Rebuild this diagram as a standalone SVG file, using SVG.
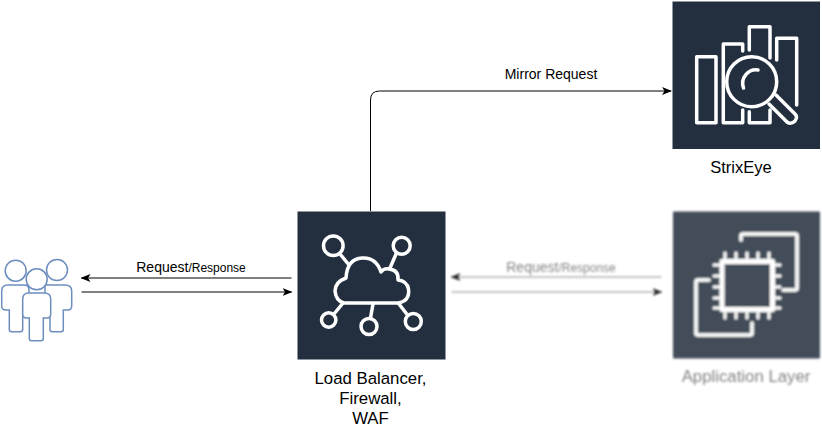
<svg xmlns="http://www.w3.org/2000/svg" width="822" height="432" viewBox="0 0 822 432">
<style>
text{font-family:"Liberation Sans",Arial,sans-serif;fill:#000;text-anchor:middle}
.box{fill:#232f3e}
.ic{fill:none;stroke:#fff;stroke-width:3.500;stroke-linejoin:round;stroke-linecap:round}
.ln{fill:none;stroke:#000;stroke-width:1}
.p{fill:#fff;stroke:#6c8ebf;stroke-width:1.500}
</style>
<defs>
<marker id="a" viewBox="0 0 10 8" refX="9" refY="4" markerWidth="10" markerHeight="8" orient="auto" markerUnits="userSpaceOnUse"><path d="M0 0L10 4L0 8L2.500 4Z" fill="#000"/></marker>
<filter id="b" x="-5%" y="-5%" width="110%" height="110%"><feGaussianBlur stdDeviation="1.100"/></filter>
</defs>
<g id="connectors">
<path class="ln" d="M370.500 211V100Q370.500 91 379.500 91H671" marker-end="url(#a)"/>
<path class="ln" d="M291.500 278H81.500" marker-end="url(#a)"/>
<path class="ln" d="M81.500 292H291.500" marker-end="url(#a)"/>
<text x="191" y="271.500" font-size="14">Request<tspan font-size="12">/Response</tspan></text>
<text x="551" y="78.500" font-size="14">Mirror Request</text>
</g>
<g id="users">
<circle class="p" cx="15.700" cy="270.700" r="10.500"/>
<circle class="p" cx="57" cy="270" r="10.500"/>
<path class="p" d="M8 285H24Q29 285 29 290V305H22.700V329.500Q22.700 331.700 20.500 331.700H11.500Q9.300 331.700 9.300 329.500V310H6Q1.700 310 1.700 306V291Q1.700 285 8 285Z"/>
<path class="p" d="M45 285H65Q71.700 285 71.700 291V306Q71.700 310 67.500 310H63.300V329.500Q63.300 331.700 61 331.700H52.200Q50 331.700 50 329.500V305H45Z"/>
<circle class="p" cx="36.700" cy="279.300" r="10.500"/>
<path class="p" d="M29 293H44.500Q50.700 293 50.700 299V314Q50.700 318 47 318H43.300V338.500Q43.300 340.700 41 340.700H31.500Q29.300 340.700 29.300 338.500V318H26.500Q22.700 318 22.700 314V299Q22.700 293 29 293Z"/>
</g>
<g id="load-balancer">
<rect class="box" x="297.500" y="211.500" width="148" height="148"/>
<g class="ic">
<circle cx="333.300" cy="245.700" r="9.800"/>
<circle cx="401.700" cy="245.700" r="8.500"/>
<circle cx="328.700" cy="320" r="7.200"/>
<circle cx="369" cy="326.500" r="8"/>
<circle cx="413.300" cy="321.500" r="8"/>
<path d="M340 254L349 265M396.500 253L390 268M343 303L334 314M373 304L370.500 318M399 304L407.500 315"/>
<path d="M344 303H398Q410 301 408.500 289Q407 281 398 280Q399 270 389 269Q384 268 381 272Q376 257 362 258Q347 259 346 278Q335 282 335 291Q336 301 344 303Z"/>
</g>
<text x="370.500" y="384" font-size="16.800">Load Balancer,</text>
<text x="370.500" y="404" font-size="16.800">Firewall,</text>
<text x="370.500" y="424" font-size="16.800">WAF</text>
</g>
<g id="strixeye">
<rect class="box" x="672.500" y="1.500" width="147.500" height="147.500"/>
<g class="ic">
<rect x="696.700" y="56.700" width="19.300" height="66"/>
<path d="M742.700 51V44H723.300V122.700H742.700V110M749.300 50V26.700H770V58M749.300 111.700V122.700H770V110M776.700 60V38.300H796.700V105"/>
<circle cx="751.700" cy="81.700" r="25"/>
<path d="M758 70A13.500 13.500 0 0 0 743.500 88"/>
<path d="M769 104L787 122Q791 125 795 121Q798 117 795 114L776 95"/>
</g>
<text x="741" y="173" font-size="16.500">StrixEye</text>
</g>
<g id="application-layer" filter="url(#b)" opacity="0.85">
<path d="M661.500 277H451.500" fill="none" stroke="#000" stroke-opacity=".55" marker-end="url(#a)"/>
<path d="M451.500 292H661.500" fill="none" stroke="#000" stroke-opacity=".55" marker-end="url(#a)"/>
<text x="561" y="271.500" font-size="14" opacity=".6">Request<tspan font-size="12">/Response</tspan></text>
<rect x="673" y="211.500" width="147" height="147" fill="#232f3e" rx="1"/>
<g class="ic">
<path d="M741 240V236Q741 234 743 234H795Q797 234 797 236V288Q797 290 795 290H783"/>
<path d="M709 280H698Q696 280 696 282V333Q696 335 698 335H750Q752 335 752 333V323"/>
<rect x="722" y="261.500" width="50.500" height="48" stroke-width="5"/>
<path d="M725 258V253M736 258V253M747 258V253M758 258V253M769 258V253M725 312V318M736 312V318M747 312V318M758 312V318M769 312V318M719 265H714M719 276H714M719 287H714M719 298H714M719 308H714M775 265H780M775 276H780M775 287H780M775 298H780M775 308H780" stroke-width="3"/>
</g>
<text x="746" y="382" font-size="16.800" opacity=".6">Application Layer</text>
</g>
</svg>
